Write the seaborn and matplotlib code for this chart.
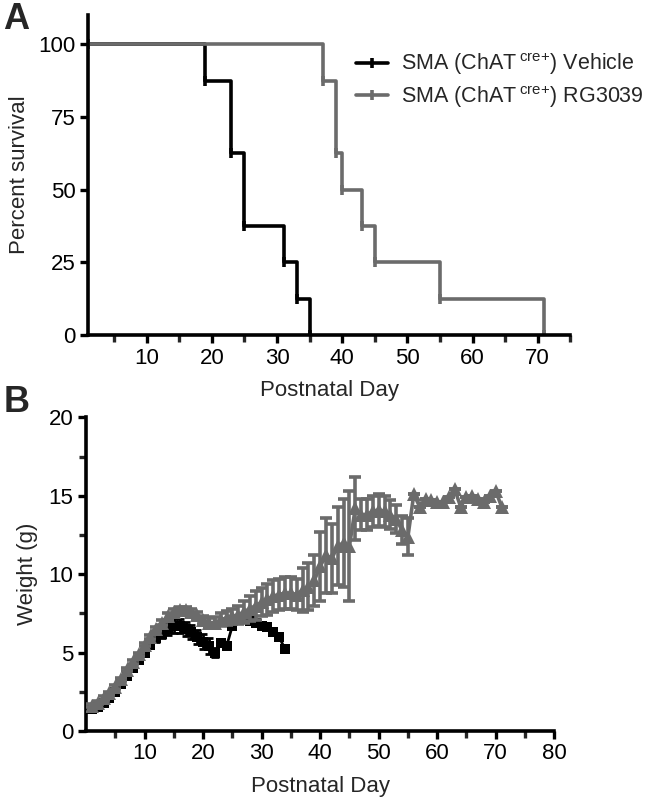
import numpy as np
import pandas as pd
import seaborn as sns
from matplotlib import pyplot as plt
from matplotlib.ticker import MultipleLocator

BLACK = "#000000"
GRAY = "#6b6b6b"

# survival (Kaplan-Meier steps)
veh_surv_days = [1, 19, 23, 25, 31, 33, 35]
veh_surv_pct = [100, 87.5, 62.5, 37.5, 25, 12.5, 0]
rg_surv_days = [1, 37, 39, 40, 43, 45, 55, 71]
rg_surv_pct = [100, 87.5, 62.5, 50, 37.5, 25, 12.5, 0]

# body weight, vehicle
veh_days = list(range(1, 35))
veh_mean = [1.4, 1.5, 1.8, 2.1, 2.5, 3.0, 3.5, 4.0, 4.5, 5.0, 5.5, 5.9, 6.2, 6.5,
            6.7, 6.7, 6.5, 6.3, 6.0, 5.7, 5.4, 5.0, 5.6, 5.4, 6.7, 7.1, 7.2, 7.0,
            6.9, 6.7, 6.6, 6.3, 6.0, 5.2]
veh_sem = [0.1, 0.1, 0.1, 0.1, 0.1, 0.1, 0.1, 0.1, 0.1, 0.15, 0.2, 0.25, 0.3, 0.4,
           0.45, 0.45, 0.45, 0.45, 0.45, 0.5, 0.5, 0.3, 0.2, 0.2, 0.0, 0.0, 0.0, 0.0,
           0.0, 0.0, 0.0, 0.0, 0.0, 0.0]

# body weight, RG3039
rg_days = list(range(1, 72))
rg_mean = [1.6, 1.8, 2.1, 2.4, 2.8, 3.3, 3.9, 4.4, 4.9, 5.5, 6.0, 6.5, 6.9, 7.3,
           7.6, 7.7, 7.7, 7.6, 7.4, 7.1, 6.9, 6.9, 7.1, 7.2, 7.3, 7.4, 7.6, 7.8,
           8.0, 8.2, 8.4, 8.6, 8.7, 8.8, 8.8, 8.7, 9.0, 9.2, 9.6, 10.5, 11.2, 11.0,
           11.8, 12.0, 11.8, 14.2, 13.8, 13.8, 14.0, 14.1, 14.0, 13.8, 13.5, 12.8,
           12.4, 15.1, 14.3, 14.8, 14.7, 14.6, 14.6, 14.9, 15.4, 14.3, 14.9, 15.0,
           14.8, 14.6, 15.0, 15.3, 14.3]
rg_sem = [0.1, 0.1, 0.1, 0.1, 0.1, 0.1, 0.1, 0.1, 0.1, 0.1, 0.15, 0.15, 0.15, 0.2,
          0.2, 0.2, 0.2, 0.2, 0.2, 0.25, 0.3, 0.35, 0.4, 0.45, 0.5, 0.6, 0.7, 0.8,
          0.9, 0.9, 1.0, 1.0, 1.0, 1.0, 1.0, 1.0, 1.4, 1.5, 1.6, 2.2, 2.4, 2.2,
          2.5, 2.8, 3.5, 2.0, 1.0, 1.0, 1.0, 1.0, 1.0, 0.9, 0.9, 0.9, 1.2,
          0, 0, 0, 0, 0, 0, 0, 0, 0, 0, 0, 0, 0, 0, 0, 0]

LABELS = [r"SMA (ChAT$\,^{\mathregular{cre{+}}}$) Vehicle",
          r"SMA (ChAT$\,^{\mathregular{cre{+}}}$) RG3039"]

sns.set_style("ticks")
plt.rcParams["font.family"] = ["Liberation Sans", "DejaVu Sans"]
plt.rcParams["font.size"] = 16
plt.rcParams["mathtext.fontset"] = "custom"
plt.rcParams["mathtext.rm"] = "Liberation Sans"

fig = plt.figure(figsize=(6.67, 7.98), dpi=100)
ax1 = fig.add_axes([0.132, 0.580, 0.723, 0.401])
ax2 = fig.add_axes([0.129, 0.084, 0.702, 0.393])


def style_axis(ax):
    for s in ["top", "right"]:
        ax.spines[s].set_visible(False)
    for s in ["left", "bottom"]:
        ax.spines[s].set_linewidth(2.6)
        ax.spines[s].set_color("black")
    ax.tick_params(which="major", direction="out", length=6, width=2.4,
                   labelsize=16, colors="black", pad=3)
    ax.tick_params(which="minor", direction="out", length=5, width=2.4)


# panel A
surv = pd.concat([
    pd.DataFrame({"day": veh_surv_days, "pct": veh_surv_pct, "group": LABELS[0]}),
    pd.DataFrame({"day": rg_surv_days, "pct": rg_surv_pct, "group": LABELS[1]}),
])
sns.lineplot(data=surv, x="day", y="pct", hue="group", ax=ax1,
             palette=[BLACK, GRAY], drawstyle="steps-post", linewidth=2.6,
             marker="|", markersize=7, markeredgewidth=2.6, sort=False,
             estimator=None)
for ln in ax1.get_lines():
    ln.set_markeredgecolor(ln.get_color())
style_axis(ax1)
ax1.set_xlim(1, 75)
ax1.set_ylim(0, 110)
ax1.set_xticks([10, 20, 30, 40, 50, 60, 70])
ax1.xaxis.set_minor_locator(MultipleLocator(10, offset=5))
ax1.set_yticks([0, 25, 50, 75, 100])
ax1.set_xlabel("Postnatal Day", fontsize=16, labelpad=8)
ax1.set_ylabel("Percent survival", fontsize=16, labelpad=6)
leg = ax1.legend(loc="upper left", bbox_to_anchor=(0.515, 0.95), frameon=False,
                 fontsize=15.5, handlelength=1.5, handletextpad=0.6,
                 labelspacing=0.3)
for ln in leg.get_lines():
    ln.set_markeredgecolor(ln.get_color())
    ln.set_linewidth(2.6)

# panel B
ax2.errorbar(veh_days, veh_mean, yerr=veh_sem, fmt="none", ecolor=BLACK,
             elinewidth=2, capsize=3, capthick=2, zorder=2)
ax2.errorbar(rg_days, rg_mean, yerr=rg_sem, fmt="none", ecolor=GRAY,
             elinewidth=2.6, capsize=4, capthick=2.6, zorder=3)
sns.lineplot(x=veh_days, y=veh_mean, ax=ax2, color=BLACK, linewidth=2,
             marker="s", markersize=7.5, markeredgewidth=0, zorder=2)
sns.lineplot(x=rg_days, y=rg_mean, ax=ax2, color=GRAY, linewidth=2.6,
             marker="^", markersize=10.5, markeredgewidth=0, zorder=3)
style_axis(ax2)
ax2.set_xlim(0, 80)
ax2.set_ylim(0, 20)
ax2.set_xticks([10, 20, 30, 40, 50, 60, 70, 80])
ax2.xaxis.set_minor_locator(MultipleLocator(10, offset=5))
ax2.set_yticks([0, 5, 10, 15, 20])
ax2.yaxis.set_minor_locator(MultipleLocator(2.5))
ax2.set_xlabel("Postnatal Day", fontsize=16, labelpad=8)
ax2.set_ylabel("Weight (g)", fontsize=16, labelpad=8)

fig.text(0.005, 0.998, "A", fontsize=26, fontweight="bold", va="top")
fig.text(0.005, 0.518, "B", fontsize=26, fontweight="bold", va="top")

plt.savefig("out.png", dpi=100)
